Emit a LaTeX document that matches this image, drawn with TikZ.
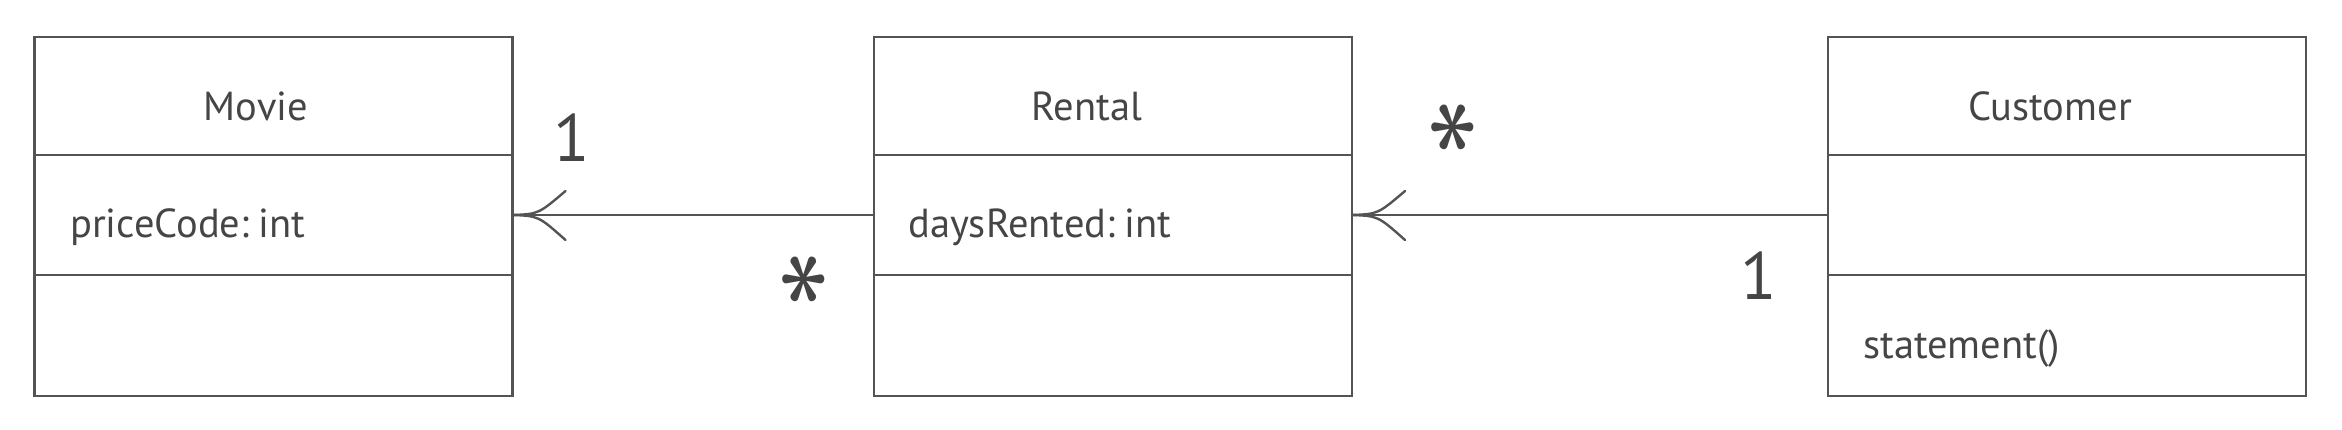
\documentclass[tikz,border=0pt]{standalone}
\usepackage{fontspec}
\usepackage{graphicx}
\setmainfont[WordSpace=0.55]{PT Sans}
\definecolor{linec}{gray}{0.33}
\definecolor{textc}{gray}{0.27}
\newcommand{\multstar}{\rotatebox{90}{\boldmath$\ast$}}
\begin{document}
\begin{tikzpicture}[x=1pt,y=-1pt,
  comp/.style={draw=linec, line width=2.6pt, minimum width=478pt, inner sep=0pt, outer sep=0pt},
  clsname/.style={text=textc, inner sep=0pt, anchor=base, font=\fontsize{40.5}{48}\selectfont},
  member/.style={text=textc, inner sep=0pt, anchor=base west, font=\fontsize{40.5}{48}\selectfont},
  mult/.style={text=textc, inner sep=0pt, font=\fontsize{67}{70}\selectfont},
  star/.style={text=textc, inner sep=0pt, xscale=9.5, yscale=10.5},
  assoc/.style={draw=linec, line width=2.6pt},
  barb/.style={draw=linec, line width=2.4pt, line cap=round}]
\useasboundingbox (0,0) rectangle (2342,430);
% Movie
\node[comp, minimum height=118pt] (movieH) at (273.5,96) {};
\node[comp, minimum height=120pt] (movieA) at (273.5,215) {};
\node[comp, minimum height=121pt] (movieO) at (273.5,335.5) {};
\node[clsname] (movieN) at (256,121) {Movie};
\node[member] (movieT) at (70,238) {priceCode: int};
% Rental
\node[comp, minimum height=118pt] (rentalH) at (1113,96) {};
\node[comp, minimum height=120pt] (rentalA) at (1113,215) {};
\node[comp, minimum height=121pt] (rentalO) at (1113,335.5) {};
\node[clsname] (rentalN) at (1087,121) {Rental};
\node[member] (rentalT) at (908,238) {daysRented: int};
% Customer
\node[comp, minimum height=118pt] (custH) at (2067,96) {};
\node[comp, minimum height=120pt] (custA) at (2067,215) {};
\node[comp, minimum height=121pt] (custO) at (2067,335.5) {};
\node[clsname] (custN) at (2050,121) {Customer};
\node[member] (custT) at (1863,358) {statement()};
% connectors
\coordinate (tip1) at (movieA.east);
\coordinate (tip2) at (rentalA.east);
\draw[assoc] (rentalA.west) -- (tip1);
\draw[assoc] (custA.west) -- (tip2);
\foreach \t in {tip1,tip2}{
  \draw[barb] (\t) .. controls ([shift={(26,-1)}]\t) .. ([shift={(53,-24)}]\t);
  \draw[barb] (\t) .. controls ([shift={(26,1)}]\t) .. ([shift={(53,25)}]\t);
}
% multiplicities
\node[mult] (m1) at (572,138) {1};
\node[star] (m2) at (805,279) {\multstar};
\node[star] (m3) at (1454,127) {\multstar};
\node[mult] (m4) at (1759,276) {1};
\end{tikzpicture}
\end{document}
